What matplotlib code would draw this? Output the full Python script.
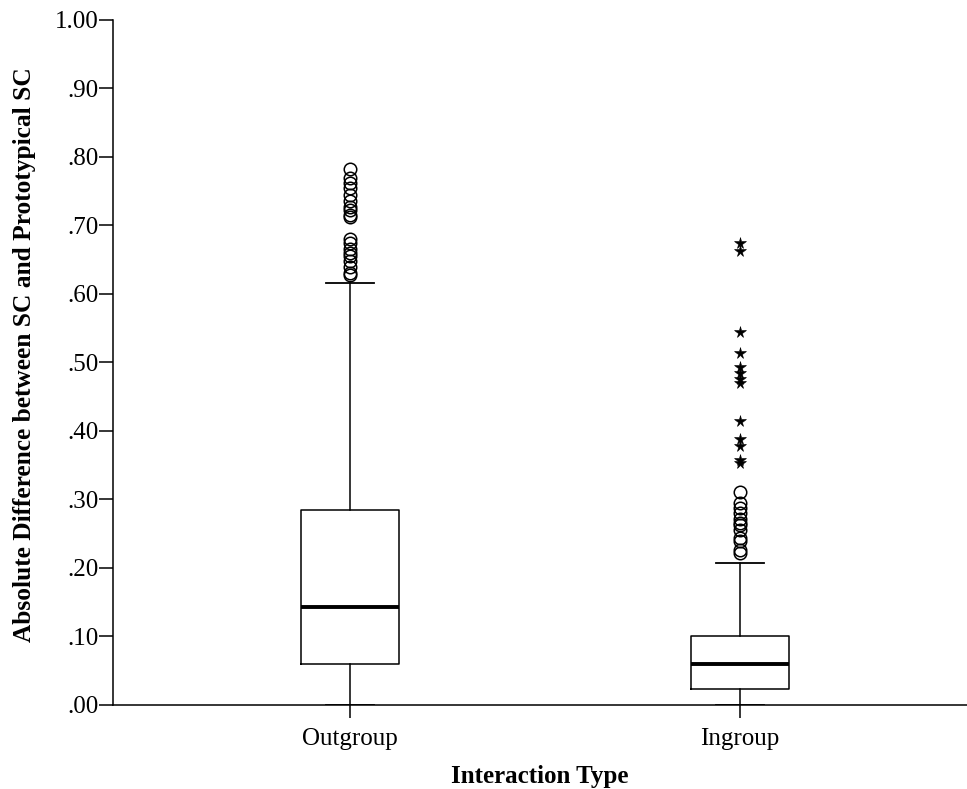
"""Box plot of SC deviation from the prototypical SC by interaction type."""

import matplotlib.pyplot as plt

groups = ["Outgroup", "Ingroup"]

# five-number summaries per group
q1 = [0.060, 0.023]
median = [0.143, 0.060]
q3 = [0.285, 0.100]
whisker_low = [0.0, 0.0]
whisker_high = [0.616, 0.207]

# mild outliers (circles) and extreme outliers (stars)
outgroup_mild = [0.782, 0.770, 0.762, 0.755, 0.745, 0.735, 0.727, 0.722,
                 0.715, 0.712, 0.680, 0.675, 0.665, 0.660, 0.655, 0.648,
                 0.640, 0.630, 0.628]
ingroup_mild = [0.311, 0.295, 0.288, 0.280, 0.272, 0.265, 0.262, 0.255,
                0.244, 0.240, 0.226, 0.222]
ingroup_extreme = [0.674, 0.663, 0.545, 0.514, 0.493, 0.485, 0.476, 0.470,
                   0.415, 0.388, 0.378, 0.358, 0.353]

mild = [outgroup_mild, ingroup_mild]
extreme = [[], ingroup_extreme]

plt.rcParams["font.family"] = ["Liberation Serif", "DejaVu Serif"]

fig = plt.figure(figsize=(9.67, 7.89), dpi=100)
ax = fig.add_axes([0.1169, 0.1065, 0.8831, 0.8682])

positions = [1, 2]
stats = []
for i, name in enumerate(groups):
    stats.append({
        "label": name,
        "med": median[i],
        "q1": q1[i],
        "q3": q3[i],
        "whislo": whisker_low[i],
        "whishi": whisker_high[i],
        "fliers": [],
    })

ax.bxp(
    stats,
    positions=positions,
    widths=0.251,
    capwidths=0.123,
    showfliers=False,
    boxprops=dict(color="black", linewidth=1.1),
    whiskerprops=dict(color="black", linewidth=1.1),
    capprops=dict(color="black", linewidth=1.3),
    medianprops=dict(color="black", linewidth=2.8),
)

for pos, vals in zip(positions, mild):
    ax.plot([pos] * len(vals), vals, linestyle="none", marker="o",
            markersize=9, markerfacecolor="none", markeredgecolor="black",
            markeredgewidth=1.1)
for pos, vals in zip(positions, extreme):
    ax.plot([pos] * len(vals), vals, linestyle="none", marker="*",
            markersize=8.5, markerfacecolor="black", markeredgecolor="black",
            markeredgewidth=0.4)

ax.set_xlim(0.392, 2.582)
ax.set_ylim(0, 1.0)
ax.set_yticks([i / 10 for i in range(11)])
ax.set_yticklabels(["1.00" if i == 10 else f".{i}0" for i in range(11)])
ax.set_xticks(positions)
ax.set_xticklabels(groups)

for side in ["top", "right"]:
    ax.spines[side].set_visible(False)
ax.spines["left"].set_linewidth(1.1)
ax.spines["bottom"].set_linewidth(1.1)
ax.tick_params(axis="both", labelsize=18, width=1.1, color="black")
ax.tick_params(axis="x", length=9.5, pad=7)
ax.tick_params(axis="y", length=10, pad=0.5)

ax.set_xlabel("Interaction Type", fontsize=18, fontweight="bold")
ax.set_ylabel("Absolute Difference between SC and Prototypical SC",
              fontsize=18.3, fontweight="bold")
ax.xaxis.set_label_coords(0.5, -0.087)
ax.yaxis.set_label_coords(-0.0905, 0.511)

fig.savefig("out.png", dpi=100)
